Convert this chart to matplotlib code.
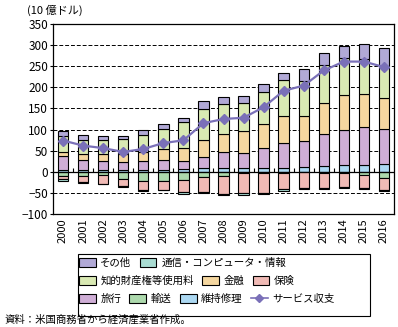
import numpy as np
import matplotlib.pyplot as plt
from matplotlib.patches import Patch, Rectangle
from matplotlib.lines import Line2D

plt.rcParams["font.family"] = ["Noto Sans CJK JP", "DejaVu Sans"]

# --- Data (10 億ドル) ---
years = [str(y) for y in range(2000, 2017)]

# positive side, stacked upward from 0
maint = [4, 4, 4, 4, 4, 5, 6, 8, 8, 8, 8, 9, 12, 13, 16, 16, 19]          # 維持修理
travel = [33, 25, 22, 18, 21, 22, 20, 27, 39, 37, 49, 60, 60, 76, 84, 91, 83]  # 旅行
finance = [11, 12, 16, 20, 21, 28, 31, 41, 43, 51, 57, 62, 59, 74, 82, 77, 73]  # 金融
ip = [36, 35, 34, 36, 42, 47, 60, 73, 71, 66, 74, 86, 84, 89, 88, 84, 76]      # 知的財産権等使用料
other = [12, 10, 8, 6, 10, 12, 11, 19, 17, 18, 20, 18, 28, 29, 29, 34, 41]    # その他

# negative side, stacked downward from 0
transport = [-10, -10, -8, -16, -22, -21, -20, -13, -9, -2, -2, -2, -1, -3, -3, -8, -14]   # 輸送
insurance = [-7, -15, -20, -18, -22, -22, -29, -35, -43, -49, -48, -38, -38, -36, -33, -31, -29]  # 保険
telecom = [-4, -1, -1, -1, -1, -1, -4, -2, -3, -3, -3, -6, -1, -2, -2, -2, -2]  # 通信・コンピュータ・情報

balance = [74, 62, 56, 47, 54, 68, 74.5, 115, 125, 128, 153, 192, 204, 240, 261, 261, 248]  # サービス収支

colors = {
    "その他": "#b1a9d6",
    "通信・コンピュータ・情報": "#a9dcd2",
    "知的財産権等使用料": "#d9e9b3",
    "金融": "#f5d7a0",
    "保険": "#f0bab5",
    "旅行": "#cfaed6",
    "輸送": "#add9ad",
    "維持修理": "#acd8f2",
}
line_color = "#7a70b8"

# --- Figure ---
fig = plt.figure(figsize=(3.98, 3.27), dpi=100)
ax = fig.add_axes([53 / 398, 1 - 214 / 327, 341 / 398, 190 / 327])

x = np.arange(len(years))
w = 0.52
edge = dict(edgecolor="black", linewidth=0.8, zorder=3)

pos_series = [("維持修理", maint), ("旅行", travel), ("金融", finance),
              ("知的財産権等使用料", ip), ("その他", other)]
neg_series = [("輸送", transport), ("保険", insurance), ("通信・コンピュータ・情報", telecom)]

bottom = np.zeros(len(years))
for name, vals in pos_series:
    ax.bar(x, vals, w, bottom=bottom, color=colors[name], **edge)
    bottom += np.array(vals)

bottom = np.zeros(len(years))
for name, vals in neg_series:
    ax.bar(x, vals, w, bottom=bottom, color=colors[name], **edge)
    bottom += np.array(vals)

ax.plot(x, balance, color=line_color, lw=1.6, marker="D", ms=5,
        markerfacecolor=line_color, markeredgecolor=line_color, zorder=5)

# --- Axes formatting ---
ax.set_xlim(-0.5, len(years) - 0.5)
ax.set_ylim(-100, 350)
ax.set_yticks(np.arange(-100, 351, 50))
ax.tick_params(axis="y", length=2.5, width=0.8, labelsize=8.5, pad=1)
ax.set_xticks(x)
ax.set_xticklabels(years, rotation=90, fontsize=8)
ax.tick_params(axis="x", length=0, pad=3)

for yv in range(-50, 301, 50):
    if yv != 0:
        ax.axhline(yv, color="black", lw=0.7, ls=(0, (4, 2)), zorder=1)
ax.axhline(0, color="black", lw=0.9, zorder=4)
ax.vlines(x[:-1] + 0.5, 0, 9, color="black", lw=0.8, zorder=4)

for s in ax.spines.values():
    s.set_linewidth(0.9)
    s.set_color("black")

fig.text(27 / 398, 1 - 10 / 327, "(10 億ドル)", fontsize=8, va="center")

# --- Legend: three flowing rows inside one frame ---
def patch(name):
    return Patch(facecolor=colors[name], edgecolor="black", linewidth=0.8)

rows = [
    ["その他", "通信・コンピュータ・情報"],
    ["知的財産権等使用料", "金融", "保険"],
    ["旅行", "輸送", "維持修理", "サービス収支"],
]
row_y = [263, 281, 299]
for names, yy in zip(rows, row_y):
    handles = []
    for n in names:
        if n == "サービス収支":
            handles.append(Line2D([], [], color=line_color, lw=1.2, marker="D", ms=4))
        else:
            handles.append(patch(n))
    fig.legend(handles, names, loc="center left", bbox_to_anchor=(79 / 398, 1 - yy / 327),
               ncol=len(names), frameon=False, borderpad=0, borderaxespad=0,
               handlelength=1.6, handleheight=0.85, handletextpad=0.45,
               columnspacing=0.8, fontsize=7.5)

fig.patches.append(Rectangle((78 / 398, 1 - 316 / 327), 292 / 398, 62 / 327,
                             transform=fig.transFigure, fill=False,
                             edgecolor="black", linewidth=0.8))

fig.text(5 / 398, 1 - 320 / 327, "資料：米国商務省から経済産業省作成。", fontsize=7.5, va="center")

plt.savefig("out.png", dpi=100)
